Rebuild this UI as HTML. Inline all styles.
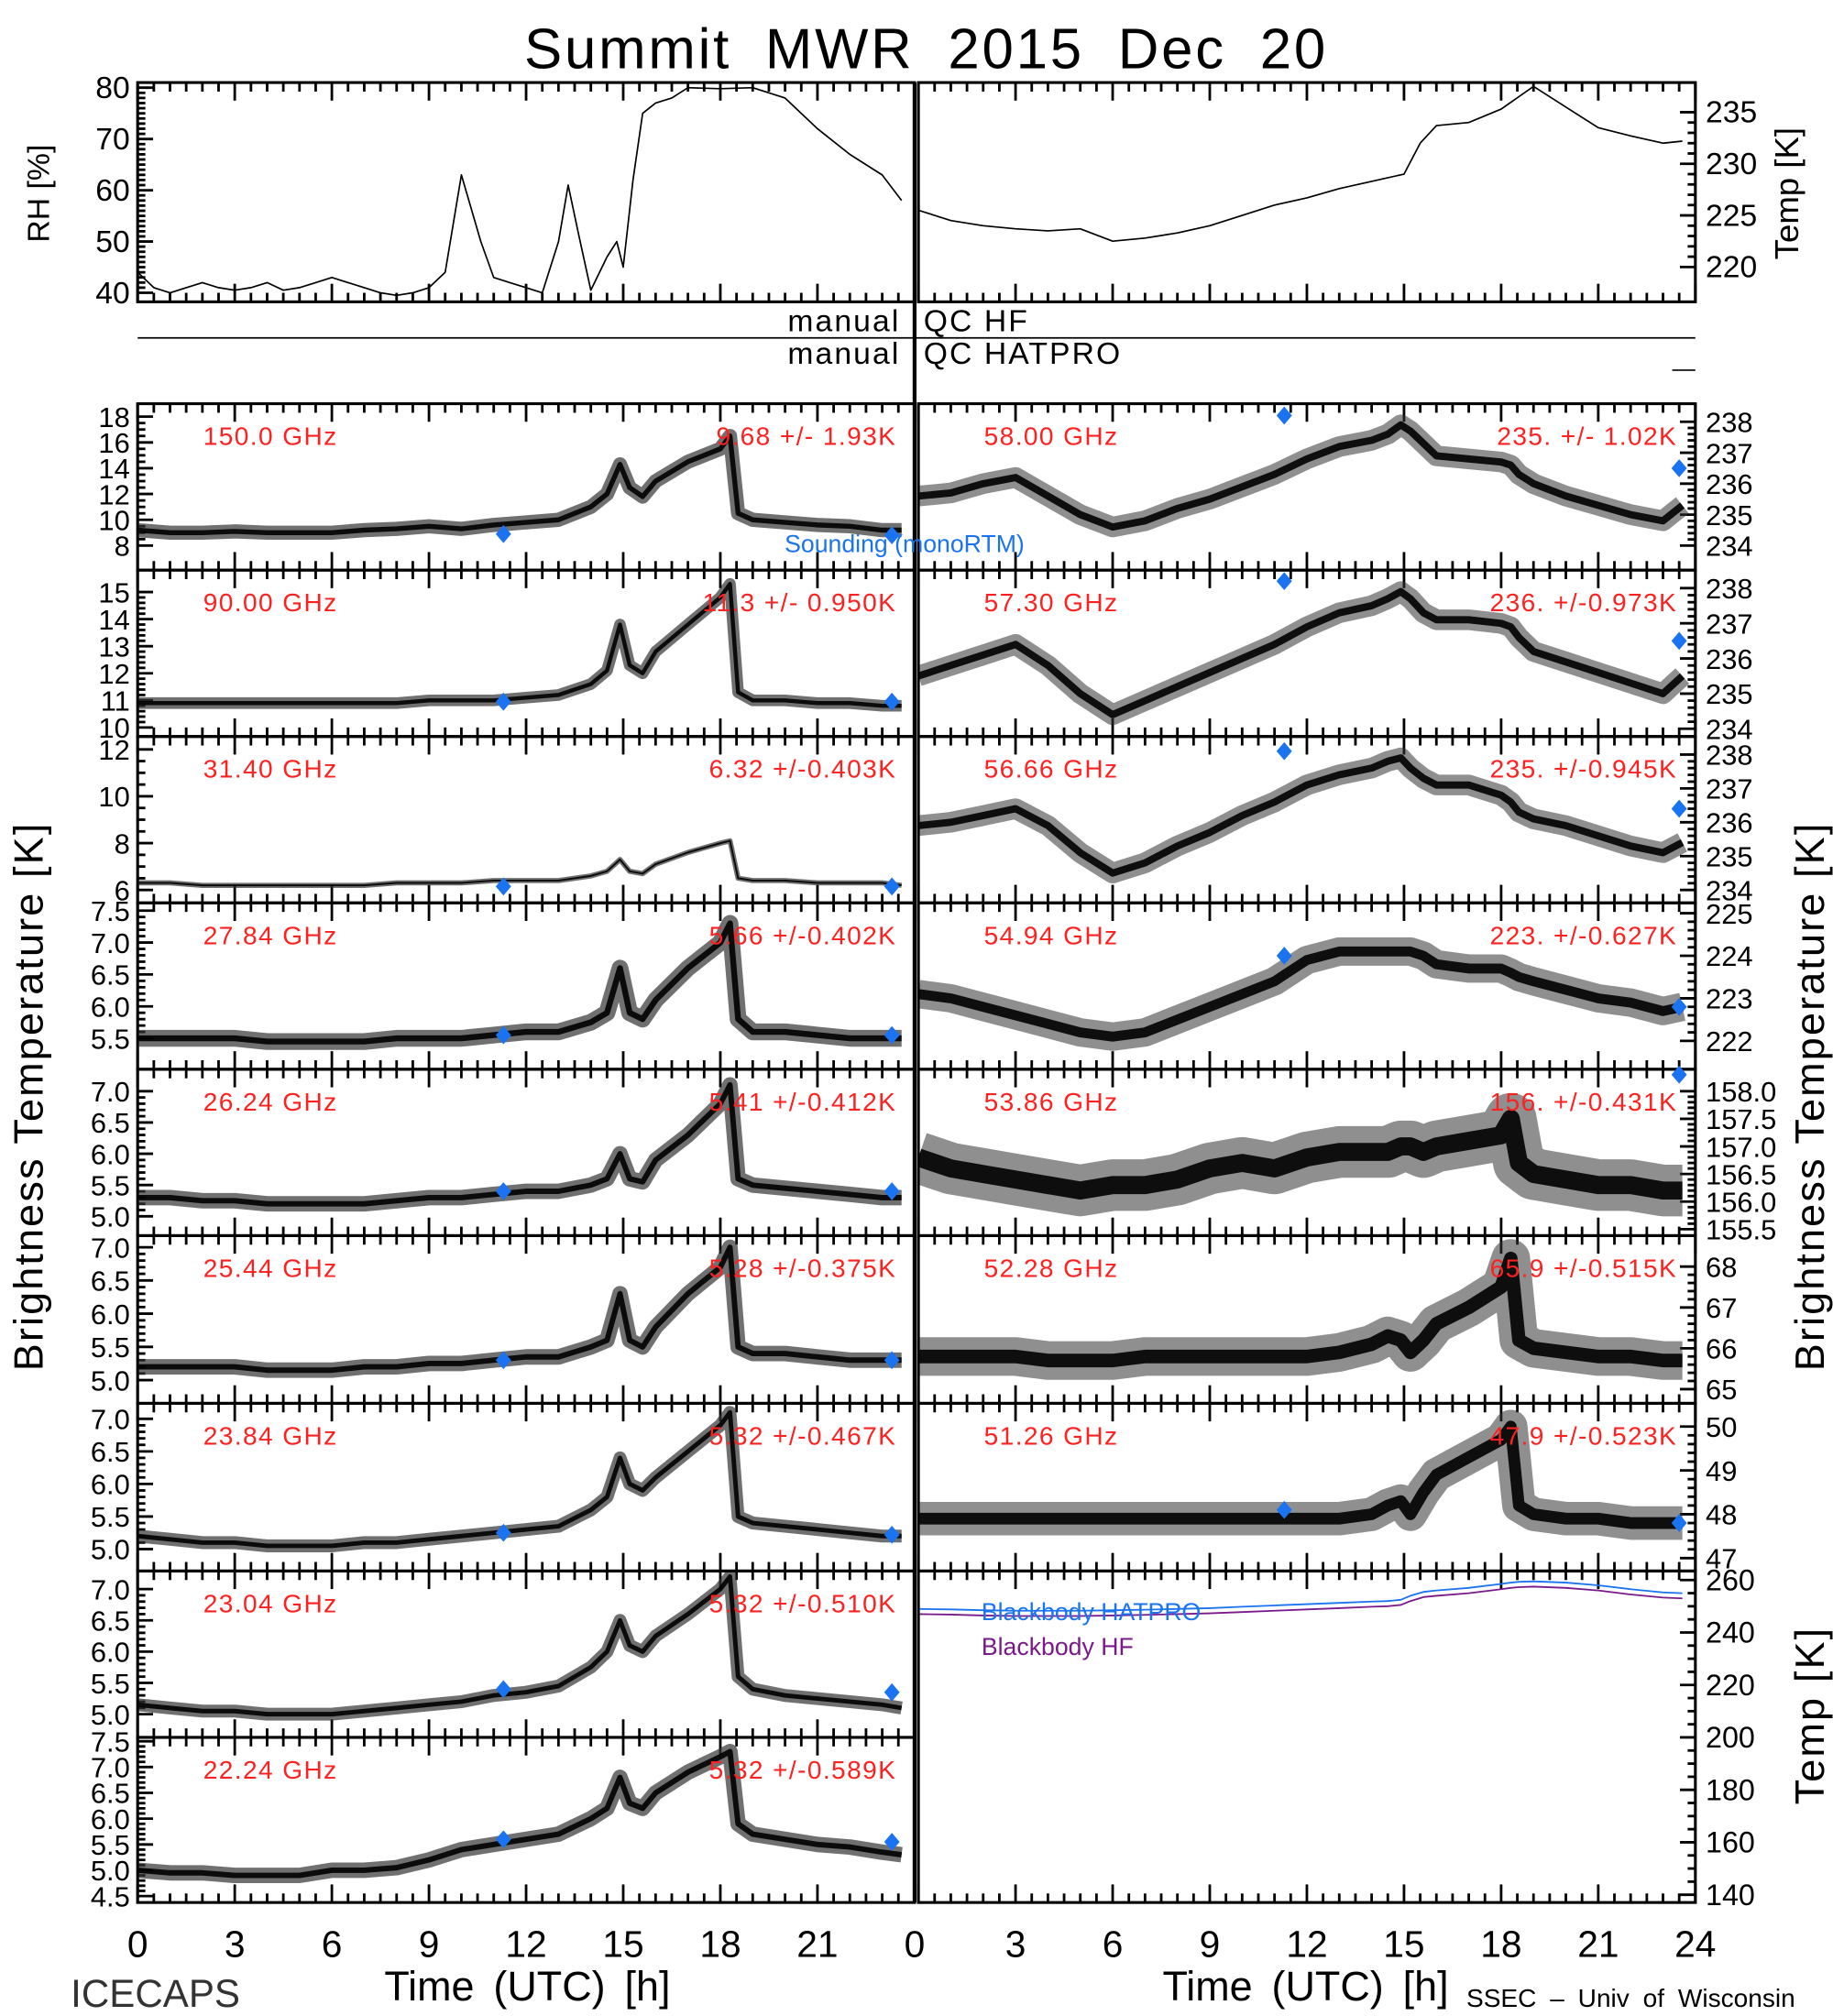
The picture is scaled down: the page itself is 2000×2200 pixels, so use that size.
<!DOCTYPE html>
<html><head><meta charset="utf-8"><style>
html,body{margin:0;padding:0;background:#fff;}
svg{display:block;}
text{font-family:"Liberation Sans",sans-serif;}
</style></head><body>
<svg id="chart" width="2000" height="2200" viewBox="0 0 1425 1563" preserveAspectRatio="none" xmlns="http://www.w3.org/2000/svg">
<defs id="defs"></defs>
<text x="720" y="53" font-size="44" text-anchor="middle" letter-spacing="2" word-spacing="12">Summit  MWR  2015  Dec  20</text>
</svg>
<script>
const T=[0,1,2,3,4,5,6,7,8,9,10,11,12,13,14,14.5,14.9,15.2,15.6,16,17,18,18.3,18.55,19,20,21,22,23,23.6];
const c150=[9.2,9,9,9.1,9,9,9,9.2,9.3,9.5,9.3,9.6,9.8,10,11,12,14.3,12.5,11.8,13,14.5,15.5,16.5,10.5,10,9.8,9.6,9.5,9.2,9.2];
const c90=[10.9,10.9,10.9,10.9,10.9,10.9,10.9,10.9,10.9,11,11,11,11.1,11.2,11.6,12.1,13.8,12.3,12,12.8,13.8,14.8,15.3,11.3,11,11,10.9,10.9,10.8,10.8];
const c314=[6.3,6.3,6.2,6.2,6.2,6.2,6.2,6.2,6.3,6.3,6.3,6.4,6.4,6.4,6.6,6.8,7.3,6.8,6.7,7.1,7.6,8,8.1,6.5,6.4,6.4,6.3,6.3,6.3,6.2];
const c2784=[5.5,5.5,5.5,5.5,5.45,5.45,5.45,5.45,5.5,5.5,5.5,5.55,5.6,5.6,5.75,5.9,6.6,5.9,5.8,6.1,6.6,7,7.3,5.8,5.6,5.6,5.55,5.5,5.5,5.5];
const c2624=[5.3,5.3,5.25,5.25,5.2,5.2,5.2,5.2,5.25,5.3,5.3,5.35,5.4,5.4,5.5,5.6,6,5.6,5.55,5.9,6.3,6.8,7.1,5.6,5.5,5.45,5.4,5.35,5.3,5.3];
const c2544=[5.2,5.2,5.2,5.2,5.15,5.15,5.15,5.2,5.2,5.25,5.25,5.3,5.35,5.35,5.5,5.6,6.3,5.6,5.5,5.8,6.3,6.7,7,5.5,5.4,5.4,5.35,5.3,5.3,5.3];
const c2384=[5.2,5.15,5.1,5.1,5.05,5.05,5.05,5.1,5.1,5.15,5.2,5.25,5.3,5.35,5.6,5.8,6.4,6,5.9,6.1,6.5,6.9,7.1,5.5,5.4,5.35,5.3,5.25,5.2,5.2];
const c2304=[5.15,5.1,5.05,5.05,5,5,5,5.05,5.1,5.15,5.2,5.3,5.35,5.45,5.75,6,6.5,6.1,6,6.25,6.6,7,7.2,5.6,5.4,5.3,5.25,5.2,5.15,5.1];
const c2224=[5,4.95,4.95,4.9,4.9,4.9,5,5,5.05,5.2,5.4,5.5,5.6,5.7,6,6.2,6.8,6.3,6.2,6.5,6.9,7.2,7.3,5.9,5.7,5.6,5.5,5.45,5.35,5.3];
const c5800=[235.6,235.7,236,236.2,235.6,235,234.6,234.8,235.2,235.5,235.9,236.3,236.8,237.2,237.4,237.6,237.9,237.7,237.3,236.9,236.8,236.7,236.6,236.3,236,235.6,235.3,235,234.8,235.3];
const c5730=[235.5,235.8,236.1,236.4,235.8,235,234.4,234.8,235.2,235.6,236,236.4,236.9,237.3,237.5,237.7,237.9,237.7,237.3,237.1,237.1,237,236.9,236.6,236.2,235.9,235.6,235.3,235,235.5];
const c5666=[235.9,236,236.2,236.4,235.9,235.1,234.5,234.8,235.3,235.7,236.2,236.6,237.1,237.4,237.6,237.8,237.9,237.6,237.3,237.1,237.1,236.8,236.6,236.3,236.1,235.9,235.6,235.3,235.1,235.4];
const c5494=[223.1,223,222.8,222.6,222.4,222.2,222.1,222.2,222.5,222.8,223.1,223.4,223.9,224.1,224.1,224.1,224.1,224.1,224,223.8,223.7,223.7,223.6,223.5,223.4,223.2,223,222.9,222.7,222.8];
const c5386=[156.8,156.6,156.5,156.4,156.3,156.2,156.3,156.3,156.4,156.6,156.7,156.6,156.8,156.9,156.9,156.9,157,157,156.9,157,157.1,157.2,157.5,156.7,156.5,156.4,156.3,156.3,156.2,156.2];
const c5228=[65.8,65.8,65.8,65.8,65.7,65.7,65.7,65.8,65.8,65.8,65.8,65.8,65.8,65.9,66.1,66.3,66.2,65.9,66.2,66.6,67,67.5,68.2,66.2,66,65.9,65.8,65.8,65.7,65.7];
const c5126=[47.9,47.9,47.9,47.9,47.9,47.9,47.9,47.9,47.9,47.9,47.9,47.9,47.9,47.9,48,48.2,48.3,48,48.5,48.9,49.3,49.7,50,48.2,48,47.9,47.9,47.8,47.8,47.8];
const bbHat=[249,248.8,248.5,248.3,248.3,248.3,248.5,248.7,249,249.3,249.8,250.3,250.8,251.3,251.8,252,252.5,254,255.5,256,257,258.5,259,259.3,259.5,259,258,256.5,255.3,255];
const bbHF=[247,246.8,246.5,246.3,246.3,246.3,246.5,246.7,247,247.3,247.8,248.3,248.8,249.3,249.8,250,250.5,252,253.5,254,255,256.5,257,257.3,257.5,257,256,254.5,253.3,253];
const rhT=[0,0.5,1,1.5,2,2.5,3,3.5,4,4.5,5,5.5,6,6.5,7,7.5,8,8.5,9,9.5,10,10.6,11,11.5,12,12.5,13,13.3,13.6,14,14.5,14.8,15,15.3,15.6,16,16.5,17,18,19,20,21,22,23,23.6];
const rhV=[44,41,40,41,42,41,40.5,41,42,40.5,41,42,43,42,41,40,39.5,40,41,44,63,50,43,42,41,40,50,61,52,40.5,47,50,45,62,75,77,78,80,79.8,80,78,72,67,63,58];
const tmpT=[0,1,2,3,4,5,6,7,8,9,10,11,12,13,14,15,15.5,16,17,18,19,20,21,22,23,23.6];
const tmpV=[225.5,224.5,224,223.7,223.5,223.7,222.5,222.8,223.3,224,225,226,226.7,227.6,228.3,229,232,233.7,234,235.3,237.5,235.5,233.5,232.7,232,232.2];
const dT=[11.3,23.3];
const freqLabels=["150.0 GHz","90.00 GHz","31.40 GHz","27.84 GHz","26.24 GHz","25.44 GHz","23.84 GHz","23.04 GHz","22.24 GHz","58.00 GHz","57.30 GHz","56.66 GHz","54.94 GHz","53.86 GHz","52.28 GHz","51.26 GHz"];
const statLabels=["9.68 +/-  1.93K","11.3 +/- 0.950K","6.32 +/-0.403K","5.66 +/-0.402K","5.41 +/-0.412K","5.28 +/-0.375K","5.32 +/-0.467K","5.32 +/-0.510K","5.32 +/-0.589K","235. +/- 1.02K","236. +/-0.973K","235. +/-0.945K","223. +/-0.627K","156. +/-0.431K","65.9 +/-0.515K","47.9 +/-0.523K"];
const NS="http://www.w3.org/2000/svg";
const svg=document.getElementById('chart');
const defs=document.getElementById('defs');
function el(tag,attrs,parent){const e=document.createElementNS(NS,tag);for(const k in attrs)e.setAttribute(k,attrs[k]);(parent||svg).appendChild(e);return e;}
function txt(x,y,s,size,anchor,fill,parent){const t=el('text',{x:x,y:y,'font-size':size,'text-anchor':anchor||'start',fill:fill||'#000'},parent);t.textContent=s;return t;}
const LX0=107,RX0=714,PW=604;
let clipN=0;
function xs(x0,h){return x0+h*PW/24;}
function mkY(v1,y1,v2,y2){return v=>y1+(v-v1)*(y2-y1)/(v2-v1);}
function frame(x0,top,bot,name){
  const g=el('g',{});
  
  
  el('rect',{x:x0,y:top,width:PW,height:bot-top,fill:'none',stroke:'#000','stroke-width':2.2},g);
  for(let i=0;i<=48;i++){const x=xs(x0,i/2);const L=(i%6===0)?14:7;
    el('line',{x1:x,y1:top,x2:x,y2:top+L,stroke:'#000','stroke-width':2},g);
    el('line',{x1:x,y1:bot,x2:x,y2:bot-L,stroke:'#000','stroke-width':2},g);}
  const id='clip'+(clipN++);
  const cp=el('clipPath',{id:id},defs);
  el('rect',{x:x0+1,y:top+1,width:PW-2,height:bot-top-2},cp);
  g.clipId=id;
  return g;
}
function yticks(g,x0,side,ticks,ys,minorPer,fontSize,dec){
  for(let i=0;i<ticks.length;i++){const y=ys(ticks[i]);
    el('line',{x1:x0,y1:y,x2:x0+(side<0?12:-12),y2:y,stroke:'#000','stroke-width':2},g);
    if(i<ticks.length-1){const step=(ticks[i+1]-ticks[i])/minorPer;for(let k=1;k<minorPer;k++){const yy=ys(ticks[i]+step*k);el('line',{x1:x0,y1:yy,x2:x0+(side<0?6:-6),y2:yy,stroke:'#000','stroke-width':2},g);}}
    const t=txt(side<0?x0-6:x0+8,y+8,dec?ticks[i].toFixed(dec):String(ticks[i]),fontSize||23,side<0?'end':'start','#000',g);
    
    
  }
}
function series(g,x0,xsT,vals,ys,w,name,color,op){
  let d='';for(let i=0;i<vals.length;i++){d+=(i?'L':'M')+xs(x0,xsT[i]).toFixed(1)+','+ys(vals[i]).toFixed(1);}
  const p=el('path',{d:d,fill:'none',stroke:color||'#000','stroke-width':w,'stroke-linejoin':'round','stroke-opacity':op||1},g);
  if(g.clipId)p.setAttribute('clip-path','url(#'+g.clipId+')');
  
  
}
function diamond(g,x,y){const p=el('path',{d:`M${x},${y-7}L${x+6},${y}L${x},${y+7}L${x-6},${y}Z`,fill:'#1a73f0'},g);
  
  }
// top panels
{const g=frame(LX0,64,234,'rh-panel');const ys=mkY(80,68,40,227);yticks(g,LX0,-1,[40,50,60,70,80],ys,10,24);series(g,LX0,rhT,rhV,ys,1.2,'rh-line');}
{const g=frame(RX0,64,234,'temp-panel');const ys=mkY(235,87,220,207);
  yticks(g,RX0+PW,1,[220,225,230,235],ys,5,24);series(g,RX0,tmpT,tmpV,ys,1.2,'temp-line');}
{const t=txt(38,150,'RH [%]',24,'middle');t.setAttribute('transform','rotate(-90 38 150)');}
{const t=txt(1398,150,'Temp [K]',26,'middle');t.setAttribute('transform','rotate(-90 1398 150)');}
// QC
el('line',{x1:107,y1:262,x2:1318,y2:262,stroke:'#000','stroke-width':1.2});
el('line',{x1:1300,y1:287,x2:1318,y2:287,stroke:'#000','stroke-width':1.2});
for(const [s,x,y,a,n] of [['manual',700,257,'end','qc-manual-hf'],['QC  HF',718,257,'start','qc-hf-label'],['manual',700,282,'end','qc-manual-hatpro'],['QC  HATPRO',718,282,'start','qc-hatpro-label']]){const t=txt(x,y,s,24,a);t.setAttribute('letter-spacing','1.5');}
el('line',{x1:711,y1:64,x2:711,y2:1475,stroke:'#000','stroke-width':3});
// channel panels
const rows=[313,442,571,700,829,958,1088,1218,1347,1475];
const L=[
 {v:c150,cal:[18,323,8,423],ticks:[8,10,12,14,16,18],m:4,w:11,d:[8.9,8.8],dec:0},
 {v:c90,cal:[15,459,10,564],ticks:[10,11,12,13,14,15],m:5,w:9,d:[10.95,10.95],dec:0},
 {v:c314,cal:[12,581,6,690],ticks:[6,8,10,12],m:4,w:4,d:[6.15,6.15],dec:0},
 {v:c2784,cal:[7.5,706,5.5,805],ticks:[5.5,6.0,6.5,7.0,7.5],m:5,w:13,d:[5.55,5.55],dec:1},
 {v:c2624,cal:[7,846,5,943],ticks:[5.0,5.5,6.0,6.5,7.0],m:5,w:12,d:[5.4,5.4],dec:1},
 {v:c2544,cal:[7,967,5,1070],ticks:[5.0,5.5,6.0,6.5,7.0],m:5,w:12,d:[5.3,5.3],dec:1},
 {v:c2384,cal:[7,1100,5,1201],ticks:[5.0,5.5,6.0,6.5,7.0],m:5,w:10,d:[5.25,5.22],dec:1},
 {v:c2304,cal:[7,1232,5,1329],ticks:[5.0,5.5,6.0,6.5,7.0],m:5,w:10,d:[5.4,5.35],dec:1},
 {v:c2224,cal:[7.5,1350,4.5,1470],ticks:[4.5,5.0,5.5,6.0,6.5,7.0,7.5],m:5,w:12,d:[5.6,5.55],dec:1}];
const R=[
 {v:c5800,cal:[238,327,234,423],ticks:[234,235,236,237,238],m:5,w:16,d:[238.2,236.5],dec:0},
 {v:c5730,cal:[238,456,234,565],ticks:[234,235,236,237,238],m:5,w:16,d:[238.2,236.5],dec:0},
 {v:c5666,cal:[238,585,234,690],ticks:[234,235,236,237,238],m:5,w:16,d:[238.1,236.4],dec:0},
 {v:c5494,cal:[225,708,222,807],ticks:[222,223,224,225],m:5,w:22,d:[224,222.8],dec:0},
 {v:c5386,cal:[158,846,155.5,953],ticks:[155.5,156.0,156.5,157.0,157.5,158.0],m:5,w:40,d:[null,158.3],dec:1},
 {v:c5228,cal:[68,982,65,1077],ticks:[65,66,67,68],m:5,w:30,d:[null,null],dec:0},
 {v:c5126,cal:[50,1106,47,1208],ticks:[47,48,49,50],m:5,w:26,d:[48.1,47.8],dec:0}];
function drawChan(cfg,i,x0,side,idx){
  const g=frame(x0,rows[i],rows[i+1],'panel-'+freqLabels[idx].replace(/[ .]/g,'-').toLowerCase());
  const c=cfg.cal;const ys=mkY(c[0],c[1],c[2],c[3]);
  yticks(g,side<0?x0:x0+PW,side,cfg.ticks,ys,cfg.m,22,cfg.dec);
  series(g,x0,T,cfg.v,ys,cfg.w,'series-'+idx,'#333',side>0?0.55:0.7);
  series(g,x0,T,cfg.v,ys,Math.max(1,cfg.w*0.35),'series-core-'+idx,'#000',0.9);
  const tx=x0===LX0?[dT[0],dT[1]]:[11.3,23.5];
  for(let k=0;k<2;k++){if(cfg.d[k]!==null){let y=ys(cfg.d[k]);y=Math.max(rows[i]+2,y);diamond(g,xs(x0,tx[k]),y);}}
  const a=txt(x0+51,rows[i]+32,freqLabels[idx],20,'start','#ff2020',g);a.setAttribute('letter-spacing','1');
  const b=txt(x0+PW-14,rows[i]+32,statLabels[idx],20,'end','#ff2020',g);b.setAttribute('letter-spacing','1');
}
L.forEach((c,i)=>drawChan(c,i,LX0,-1,i));
R.forEach((c,i)=>drawChan(c,i,RX0,1,9+i));
// blackbody panel
{const g=frame(RX0,1218,1475,'blackbody-panel');const ys=mkY(260,1225,140,1469);
 yticks(g,RX0+PW,1,[140,160,180,200,220,240,260],ys,4,23);
 series(g,RX0,T,bbHat,ys,1.3,'blackbody-hatpro-line','#1a73f0');
 series(g,RX0,T,bbHF,ys,1.3,'blackbody-hf-line','#7a1a8a');
 const a=txt(763,1256,'Blackbody HATPRO',19,'start','#1a73f0',g);
 const b=txt(763,1283,'Blackbody HF',19,'start','#7a1a8a',g);}
{const t=txt(610,428,'Sounding (monoRTM)',19,'start','#1a73f0');}
// axis titles
for(const [x,y,s,n] of [[33,850,'Brightness  Temperature  [K]','left-y-axis-title'],[1418,850,'Brightness  Temperature  [K]','right-y-axis-title'],[1418,1330,'Temp  [K]','blackbody-y-axis-title']]){
 const t=txt(x,y,s,32,'middle');t.setAttribute('transform','rotate(-90 '+x+' '+y+')');t.setAttribute('letter-spacing','1.5');}
const xTicks=[0,3,6,9,12,15,18,21,24];
for(const [x0,n] of [[LX0,8],[RX0,9]]){for(let i=0;i<n;i++){const t=txt(xs(x0,xTicks[i])-(x0===RX0&&i===0?3:0),1517,String(xTicks[i]),29,'middle');
 }}
for(const [x,n] of [[410,'left-x-axis-title'],[1015,'right-x-axis-title']]){const t=txt(x,1551,'Time (UTC) [h]',32,'middle');t.setAttribute('word-spacing','6');}
{const t=txt(55,1556,'ICECAPS',30,'start','#333');}
{const t=txt(1140,1556,'SSEC – Univ of Wisconsin',20,'start');t.setAttribute('word-spacing','5');}
</script>
</body></html>
